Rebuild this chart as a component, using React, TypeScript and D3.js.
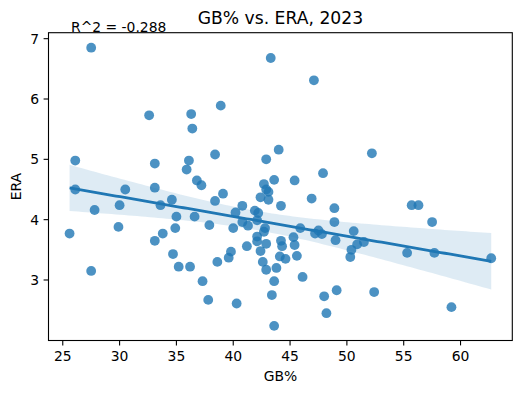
import React from "react";
import * as d3 from "d3";

const gbPct: number[] = [
  27.5, 32.6, 36.3, 36.4, 26.1, 33.1, 36.1, 35.9, 36.8, 37.2,
  43.3, 47.1, 38.9, 38.4, 44.0, 42.9, 47.9, 43.6, 45.4, 42.7,
  52.2, 26.1, 25.6, 27.8, 27.5, 30.0, 30.5, 29.9, 33.1, 33.6,
  34.6, 35.0, 34.9, 33.8, 33.1, 34.7, 35.2, 36.2, 37.3, 37.8,
  36.6, 37.9, 39.1, 38.4, 43.1, 42.9, 42.4, 43.1, 44.2, 46.9,
  48.9, 40.8, 40.2, 41.9, 42.2, 40.8, 41.3, 40.0, 42.1, 42.8,
  42.7, 42.1, 42.1, 42.9, 41.2, 42.4, 42.6, 42.9, 44.2, 44.3,
  44.1, 44.6, 43.8, 43.6, 43.4, 43.6, 45.9, 45.3, 45.4, 45.6,
  46.1, 47.2, 47.5, 47.8, 49.0, 48.9, 50.6, 50.4, 50.3, 50.9,
  48.0, 49.1, 48.2, 39.8, 39.6, 38.6, 40.3, 51.5, 55.7, 56.3,
  57.5, 55.3, 57.7, 62.7, 52.4, 59.2,
];

const era: number[] = [
  6.85, 5.73, 5.75, 5.51, 4.98, 4.93, 4.98, 4.83, 4.65, 4.57,
  6.68, 6.31, 5.89, 5.08, 5.16, 5.00, 4.77, 4.66, 4.65, 4.59,
  5.10, 4.50, 3.77, 4.16, 3.15, 4.24, 4.50, 3.88, 4.53, 4.24,
  4.33, 4.05, 3.86, 3.77, 3.65, 3.43, 3.22, 3.22, 2.98, 2.67,
  4.05, 3.91, 4.43, 4.31, 4.46, 4.50, 4.37, 4.33, 4.23, 4.35,
  4.19, 4.23, 4.12, 4.15, 4.11, 3.96, 3.90, 3.86, 3.99, 3.86,
  3.80, 3.72, 3.64, 3.60, 3.56, 3.48, 3.30, 3.17, 3.65, 3.56,
  3.39, 3.35, 3.20, 2.98, 2.75, 2.24, 3.86, 3.71, 3.58, 3.40,
  3.05, 3.77, 3.82, 3.76, 3.66, 3.96, 3.81, 3.50, 3.38, 3.59,
  2.73, 2.83, 2.45, 3.47, 3.37, 3.30, 2.61, 3.63, 4.24, 4.24,
  3.96, 3.45, 3.45, 3.36, 2.80, 2.55,
];

const xTicks: number[] = [25, 30, 35, 40, 45, 50, 55, 60];
const yTicks: number[] = [3, 4, 5, 6, 7];
const titleText = "GB% vs. ERA, 2023";
const annotation = "R^2 = -0.288";
const xLabel = "GB%";
const yLabel = "ERA";

const W = 523;
const H = 393;
const L = 48.5;
const R = 512.3;
const T = 32.7;
const B = 340.5;
const FONT = "DejaVu Sans, sans-serif";
const C0 = "#1f77b4";

export default function App() {
  const [xmin, xmax] = d3.extent(gbPct) as [number, number];
  const pad = (xmax - xmin) * 0.05;
  const x = d3.scaleLinear().domain([xmin - pad, xmax + pad]).range([L, R]);
  const y = d3.scaleLinear().domain([1.997, 7.099]).range([B, T]);

  const n = gbPct.length;
  const mx = d3.mean(gbPct)!;
  const my = d3.mean(era)!;
  let sxx = 0, sxy = 0;
  for (let i = 0; i < n; i++) {
    sxx += (gbPct[i] - mx) ** 2;
    sxy += (gbPct[i] - mx) * (era[i] - my);
  }
  const slope = sxy / sxx;
  const icpt = my - slope * mx;
  let sse = 0;
  for (let i = 0; i < n; i++) sse += (era[i] - (icpt + slope * gbPct[i])) ** 2;
  const s = Math.sqrt(sse / (n - 2));
  const tval = 1.983;
  const grid = d3.range(0, 101).map((i) => xmin + ((xmax - xmin) * i) / 100);
  const band = grid.map((gx) => {
    const yh = icpt + slope * gx;
    const h = tval * s * Math.sqrt(1 / n + (gx - mx) ** 2 / sxx);
    return { gx, lo: yh - h, hi: yh + h, yh };
  });
  const area = d3
    .area<{ gx: number; lo: number; hi: number }>()
    .x((d) => x(d.gx))
    .y0((d) => y(d.lo))
    .y1((d) => y(d.hi));
  const line = d3
    .line<{ gx: number; yh: number }>()
    .x((d) => x(d.gx))
    .y((d) => y(d.yh));

  return (
    <svg width={W} height={H} style={{ position: "absolute", left: 0, top: 0 }} fontFamily={FONT}>
      <rect x={0} y={0} width={W} height={H} fill="white" />
      <text x={(L + R) / 2} y={24.4} textAnchor="middle" fontSize={17.2} fill="#000">
        {titleText}
      </text>
      <path d={area(band) || ""} fill={C0} fillOpacity={0.15} stroke="none" />
      {gbPct.map((gx, i) => (
        <circle key={i} cx={x(gx)} cy={y(era[i])} r={4.9} fill={C0} fillOpacity={0.8} />
      ))}
      <path d={line(band) || ""} fill="none" stroke={C0} strokeWidth={2.8} />
      <rect x={L} y={T} width={R - L} height={B - T} fill="none" stroke="#000" strokeWidth={1.1} />
      {xTicks.map((t) => (
        <g key={t}>
          <line x1={x(t)} x2={x(t)} y1={B} y2={B + 4.9} stroke="#000" strokeWidth={1.1} />
          <text x={x(t)} y={361} textAnchor="middle" fontSize={13.9} fill="#000">
            {t}
          </text>
        </g>
      ))}
      {yTicks.map((t) => (
        <g key={t}>
          <line x1={L - 4.9} x2={L} y1={y(t)} y2={y(t)} stroke="#000" strokeWidth={1.1} />
          <text x={39} y={y(t)} dy="0.36em" textAnchor="end" fontSize={13.9} fill="#000">
            {t}
          </text>
        </g>
      ))}
      <text x={(L + R) / 2} y={381} textAnchor="middle" fontSize={13.9} fill="#000">
        {xLabel}
      </text>
      <text
        transform={`translate(20.8, ${(T + B) / 2}) rotate(-90)`}
        textAnchor="middle"
        fontSize={13.9}
        fill="#000"
      >
        {yLabel}
      </text>
      <text x={71} y={32} fontSize={13.9} fill="#000">
        {annotation}
      </text>
    </svg>
  );
}
